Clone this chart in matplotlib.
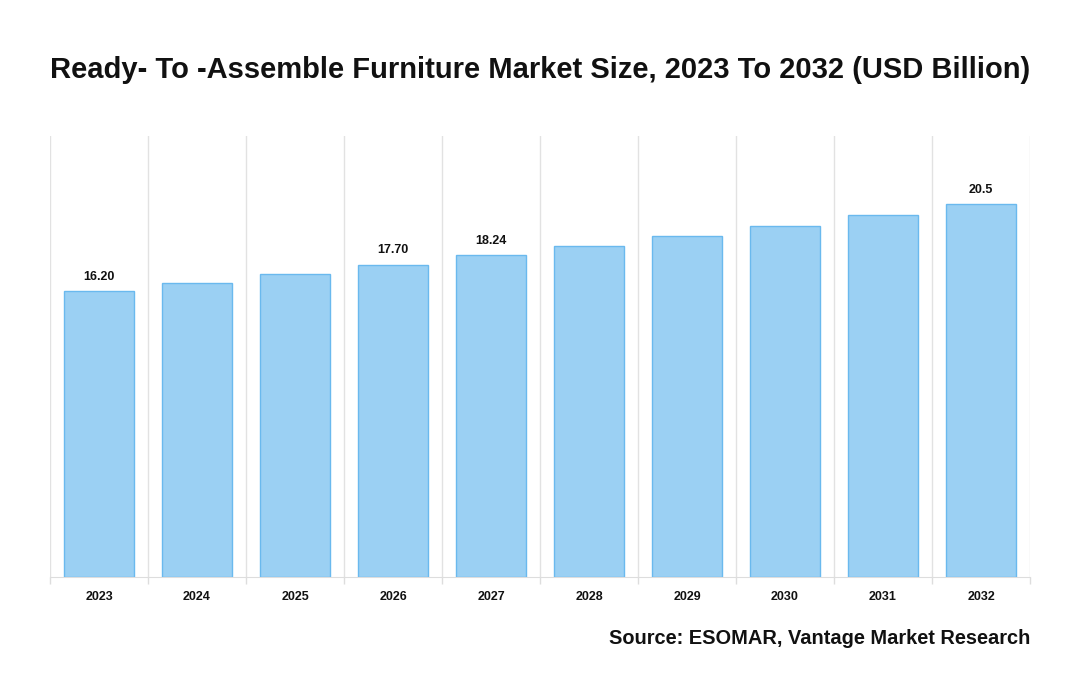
import matplotlib
matplotlib.use("Agg")
import matplotlib.pyplot as plt
import numpy as np

plt.rcParams['font.family'] = ['Liberation Sans', 'DejaVu Sans']

years = ["2023", "2024", "2025", "2026", "2027", "2028", "2029", "2030", "2031", "2032"]
values = [16.20, 16.67, 17.18, 17.70, 18.24, 18.76, 19.33, 19.92, 20.52, 21.14]
labels = ["16.20", "", "", "17.70", "18.24", "", "", "", "", "20.5"]

title = "Ready- To -Assemble Furniture Market Size, 2023 To 2032 (USD Billion)"
source = "Source: ESOMAR, Vantage Market Research"

fig = plt.figure(figsize=(10.8, 7.0), dpi=100)
ax = fig.add_axes([50/1080, 1-577/700, 980/1080, 441/700])

x = np.arange(len(years))
ax.bar(x, values, width=0.714, color="#9BD0F3", edgecolor="#6AB9EE", linewidth=1.0, zorder=3)

for xi, v, lab in zip(x, values, labels):
    if lab:
        ax.annotate(lab, (xi, v), xytext=(0, 6), textcoords="offset points",
                    ha="center", va="bottom", fontsize=9, fontweight="bold", color="#111111")

ax.set_xlim(-0.5, len(years) - 0.5)
ax.set_ylim(0, 25)
ax.set_yticks([])
ax.set_xticks(x)
ax.set_xticklabels(years, fontsize=9, fontweight="bold", color="#111111")
ax.tick_params(axis="x", which="major", length=0, pad=10)
ax.set_xticks(np.arange(-0.5, len(years)), minor=True)
ax.tick_params(axis="x", which="minor", length=5, color="#dddddd", width=1)
ax.grid(axis="x", which="minor", color="#e2e2e2", linewidth=1, zorder=0)
for s in ["top", "right", "left"]:
    ax.spines[s].set_visible(False)
ax.spines["bottom"].set_color("#dddddd")

fig.text(540/1080, 1-70/700, title, ha="center", va="center", fontsize=21, fontweight="bold", color="#111111")
fig.text(1030/1080, 1-638/700, source, ha="right", va="center", fontsize=14.4, fontweight="bold", color="#111111")

fig.savefig("out.png", dpi=100)
